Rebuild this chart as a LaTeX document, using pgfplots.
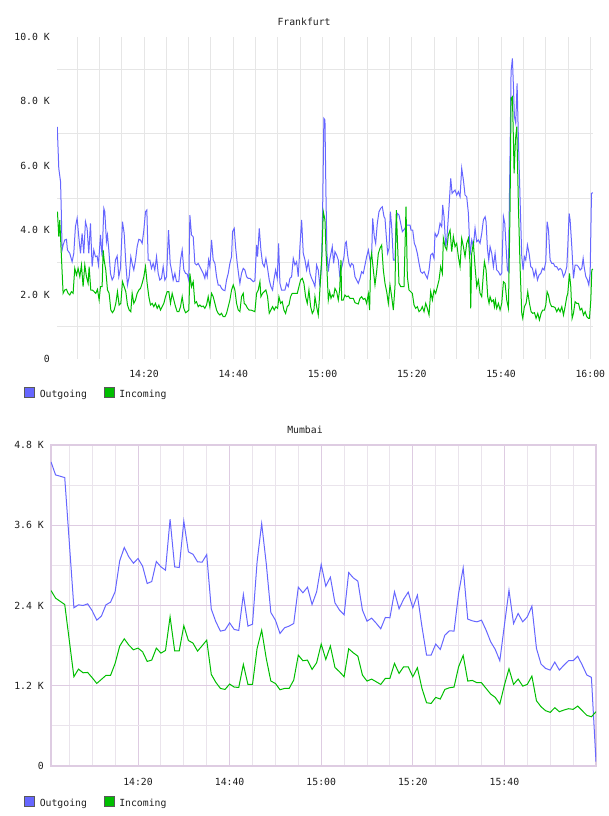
\documentclass[border=0pt]{standalone}
\usepackage{fontspec}
\setmainfont{DejaVu Sans Mono}
\usepackage{pgfplots}
\usepackage{pgfplotstable}
\pgfplotsset{compat=1.18}
\definecolor{outc}{RGB}{102,102,255}
\definecolor{inc}{RGB}{0,190,0}
\definecolor{gridg}{RGB}{230,230,230}
\definecolor{lavM}{RGB}{222,204,226}
\definecolor{lavm}{RGB}{234,228,236}
\definecolor{txt}{RGB}{30,30,30}

\pgfplotstableread{
m v
0.56 7210
0.90 5920
1.30 5500
1.49 4419
1.64 3384
1.87 3540
2.24 3695
2.62 3716
2.84 3384
3.36 3281
3.89 3022
4.26 3281
4.63 4109
5.01 4368
5.38 3798
5.76 3281
6.13 3902
6.50 3281
6.88 4264
7.25 4057
7.62 3281
8.00 4212
8.37 2867
8.74 3384
9.12 3177
9.49 3198
9.79 2919
10.24 3850
10.61 3177
10.99 4678
11.21 4575
11.58 3643
11.81 3850
12.11 3384
12.48 2660
12.86 2453
13.23 2556
13.60 3074
13.98 3198
14.35 2556
14.72 2815
15.17 4264
15.55 3902
15.92 2970
16.29 2298
16.67 2556
17.04 3177
17.41 2919
17.71 2763
18.09 3074
18.46 3488
18.83 3716
19.21 3695
19.58 3591
19.96 4005
20.33 4575
20.63 4626
20.93 3074
21.30 3074
21.67 2815
22.05 2970
22.42 2763
22.80 3177
23.17 2660
23.54 2453
23.92 2505
24.29 2867
24.66 2453
25.04 2556
25.49 4005
25.86 2970
26.16 2763
26.53 2453
26.91 2660
27.28 2401
27.80 2401
28.18 3074
28.55 3384
28.92 2763
29.30 2660
29.67 2639
30.04 2432
30.27 4471
30.64 3850
31.02 3798
31.39 2970
31.76 2919
32.14 2970
32.51 2867
32.89 2763
33.26 2660
33.63 2505
33.86 2712
34.16 2556
34.46 3074
34.75 2867
35.13 3695
35.50 3074
35.88 2970
36.25 2556
36.62 2298
37.00 2298
37.37 2194
37.74 2142
38.12 2122
38.49 2453
38.87 2660
39.24 2970
39.61 3177
39.84 3954
40.21 4057
40.51 3488
40.88 2970
41.26 2556
41.48 2349
41.85 2660
42.23 2815
42.60 2763
42.98 2556
43.35 2505
43.72 2505
44.10 2453
44.47 2401
44.84 2432
45.22 3540
45.44 3177
45.82 4057
46.19 3384
46.56 2970
46.94 2867
47.31 3126
47.68 2815
48.06 2453
48.43 2246
48.80 2142
49.10 2453
49.48 2763
49.85 2505
50.15 3591
50.45 2349
50.82 2142
51.20 2142
51.57 2142
51.94 2349
52.32 2246
52.69 2505
53.07 2556
53.44 3126
53.81 2919
54.19 3022
54.56 2556
54.93 3488
55.31 4316
55.68 3281
56.06 3074
56.43 2763
56.80 3022
57.18 2660
57.55 2505
57.92 2401
58.30 2246
58.67 2919
59.04 2763
59.42 2246
59.79 2970
60.02 4626
60.30 7470
60.54 7420
60.76 5144
60.99 3281
61.29 2712
61.59 3074
61.89 3281
62.18 3488
62.48 2970
62.78 3333
63.16 3229
63.53 3074
63.83 2608
64.13 2763
64.43 2919
64.80 3177
65.10 3591
65.32 3643
65.62 3229
65.92 2970
66.22 2867
66.52 2970
66.89 2919
67.27 2556
67.64 2453
68.01 2349
68.39 2505
68.76 2712
69.13 2660
69.51 2919
69.88 3177
70.26 3384
70.63 3074
71.00 3177
71.23 4368
71.60 3798
71.90 3591
72.27 4212
72.65 4575
73.02 4678
73.39 4730
73.77 4419
73.99 4368
74.29 3798
74.59 3281
74.89 3436
75.19 4575
75.49 4109
75.86 3074
76.23 3074
76.46 4212
76.76 4523
77.13 4471
77.51 4212
77.88 3954
78.18 4005
78.48 4057
78.85 4161
79.22 4161
79.60 4161
79.82 4005
80.20 4005
80.57 3591
80.87 3488
81.24 3281
81.62 2970
81.99 2712
82.36 2660
82.74 2712
83.11 2608
83.48 2505
83.86 2763
84.23 3229
84.61 3281
84.98 3126
85.20 3902
85.58 3798
85.95 3902
86.32 4212
86.70 4109
86.92 4782
87.22 4419
87.60 3488
87.89 3798
88.34 4730
88.72 5610
89.02 5144
89.31 5196
89.69 5247
90.06 5092
90.44 5196
90.81 5040
91.18 5920
91.56 5558
91.93 5092
92.30 5040
92.68 4523
93.05 3229
93.43 3695
93.80 3488
94.17 4057
94.55 3643
94.92 3695
95.29 3591
95.67 3902
96.04 4316
96.42 4419
96.64 4264
96.94 3436
97.24 3074
97.54 3488
97.91 3281
98.28 2867
98.66 3281
99.03 2763
99.41 2712
99.78 2608
100.15 2660
100.53 4419
100.83 4212
101.12 3488
101.42 2763
101.65 2712
102.02 6489
102.24 8922
102.54 9336
102.77 8456
102.99 7524
103.29 7317
103.59 8559
103.89 6800
104.26 4937
104.64 3177
104.94 2763
105.23 3177
105.53 3074
105.91 3540
106.28 3281
106.65 2867
107.03 2815
107.40 2556
107.78 2763
108.15 2453
108.52 2608
108.90 2660
109.27 2815
109.64 2763
110.02 3022
110.32 4264
110.62 4005
110.99 3074
111.36 2970
111.74 2970
112.11 2867
112.48 2867
112.86 2763
113.23 2815
113.61 2763
113.98 2556
114.35 2660
114.73 2867
114.95 3488
115.25 4523
115.47 4316
115.85 3488
116.22 2505
116.59 2919
116.97 2919
117.34 2867
117.71 2763
118.09 2815
118.39 3126
118.61 2867
118.99 2556
119.36 2453
119.66 2298
119.96 2660
120.26 5144
120.56 5165
}\FraOut

\pgfplotstableread{
m v
0.60 4575
0.90 3798
1.12 4316
1.49 3177
1.87 2039
2.24 2142
2.62 2163
2.99 2039
3.36 1987
3.74 2091
4.11 2039
4.48 2815
4.86 2608
5.23 2815
5.61 2556
5.98 2919
6.35 2246
6.73 2919
7.10 2556
7.47 2349
7.70 2867
8.07 2142
8.45 2142
8.82 2091
9.19 2039
9.57 2163
9.94 1832
10.24 2246
10.61 2246
10.84 3384
11.06 3074
11.43 2763
11.81 2142
12.18 2039
12.56 1521
12.93 1439
13.30 1521
13.68 1728
14.05 2091
14.42 1677
14.80 1728
15.17 2401
15.55 2246
15.92 2091
16.29 1677
16.67 1521
17.04 1470
17.34 2039
17.71 1728
18.09 1832
18.46 2039
18.83 2142
19.21 2194
19.58 2349
19.96 2556
20.33 2867
20.70 2349
21.08 1935
21.45 1677
21.82 1728
22.20 1625
22.57 1728
22.95 1573
23.32 1677
23.69 1521
24.07 1625
24.44 1728
24.81 1935
25.19 2091
25.56 2091
25.93 1728
26.31 2039
26.68 1832
27.06 1625
27.43 1470
27.80 1470
28.18 1625
28.55 1935
28.92 1573
29.30 1439
29.67 1470
30.04 1521
30.27 2660
30.64 2246
31.02 2401
31.39 1728
31.76 1780
32.14 1625
32.51 1677
32.89 1625
33.26 1646
33.63 1573
34.01 1677
34.38 1935
34.75 1625
35.13 2039
35.50 1935
35.88 1728
36.25 1521
36.62 1418
37.00 1366
37.37 1418
37.74 1314
38.12 1314
38.49 1418
38.87 1625
39.24 1832
39.61 2142
39.99 2298
40.36 2142
40.73 1728
41.11 1521
41.48 1470
41.85 1935
42.23 2039
42.45 1728
42.83 1677
43.20 1573
43.57 1521
43.95 1521
44.32 1501
44.84 1470
45.22 2039
45.59 2142
45.97 2401
46.19 1935
46.56 2039
46.94 2091
47.31 2142
47.68 1935
48.06 1418
48.43 1521
48.80 1625
49.18 1521
49.55 1625
49.93 1573
50.23 1935
50.60 1728
50.97 1780
51.35 1521
51.72 1418
52.09 1625
52.47 1677
52.84 1935
53.21 2039
53.59 2039
53.96 2039
54.34 2039
54.71 2246
55.08 2453
55.46 2505
55.83 2349
56.20 1935
56.58 1728
56.95 2142
57.33 1625
57.70 1418
58.07 1521
58.30 1935
58.67 1625
59.04 1366
59.27 1832
59.57 2556
59.87 3281
60.17 4575
60.54 4316
60.76 3384
60.99 2763
61.29 1832
61.59 2091
61.89 1884
62.18 1987
62.48 1935
62.78 2194
63.16 2091
63.53 1832
63.83 2142
64.13 3074
64.28 1832
64.65 1832
65.02 1987
65.40 1935
65.77 1956
66.15 1884
66.52 1884
66.89 1884
67.27 1749
67.64 1728
68.01 1708
68.39 1884
68.76 1935
69.13 1853
69.51 1884
69.88 1728
70.26 2018
70.55 1521
70.78 3074
71.00 3281
71.38 2763
71.75 2298
72.12 2712
72.50 3281
72.87 3436
73.25 3540
73.62 2763
73.99 2349
74.37 2091
74.74 1728
75.11 2298
75.49 1935
75.86 1521
76.23 2246
76.53 4626
76.83 3488
77.13 2349
77.51 2246
77.88 2246
78.25 2246
78.70 4730
79.00 2556
79.37 2142
79.75 2091
80.12 2039
80.50 1677
80.87 1573
81.24 1625
81.62 1470
81.99 1521
82.36 1625
82.74 1470
83.11 1728
83.48 1573
83.86 1366
84.23 2091
84.61 1832
84.98 2142
85.35 2039
85.73 2246
86.10 2453
86.47 2867
86.85 2660
87.07 3747
87.45 3488
87.82 3384
88.19 3850
88.57 4005
88.94 3333
89.31 3798
89.69 3488
90.06 3591
90.44 3177
90.81 2867
91.18 3747
91.56 3488
91.93 3177
92.30 3591
92.68 3747
93.05 2970
93.20 1573
93.43 3281
93.80 3591
94.17 2867
94.55 2246
94.92 2453
95.29 2039
95.67 1935
96.04 2660
96.27 3022
96.64 2763
97.01 1935
97.31 1728
97.54 1935
97.91 1780
98.28 1832
98.51 1625
98.73 1832
99.03 1573
99.41 1728
99.78 1521
100.15 1728
100.53 2401
100.90 2349
101.27 1832
101.65 1573
102.02 4730
102.24 8094
102.54 8146
102.77 6800
102.92 5765
103.22 6800
103.52 7214
103.89 4730
104.26 2867
104.64 1418
104.86 1263
105.23 1625
105.61 1728
105.98 2091
106.36 1728
106.73 1470
107.10 1418
107.48 1439
107.85 1263
108.22 1418
108.60 1211
108.97 1418
109.35 1521
109.72 1521
110.02 1677
110.32 2091
110.62 1987
110.99 1728
111.36 1625
111.74 1625
112.11 1594
112.48 1470
112.86 1573
113.23 1470
113.61 1625
113.98 1366
114.35 1625
114.73 1935
114.95 2039
115.32 2660
115.62 2246
115.92 1263
116.22 1418
116.59 1780
116.97 1728
117.34 1728
117.71 1521
118.09 1573
118.46 1366
118.84 1470
119.21 1314
119.58 1263
119.81 1263
120.11 1832
120.33 2763
120.56 2795
}\FraIn

\pgfplotstableread{
m v
1 4547
2 4353
4 4313
6 2366
7 2410
8 2400
9 2425
10 2321
11 2181
12 2241
13 2410
14 2450
15 2605
16 3068
17 3267
18 3127
19 3033
20 3103
21 2988
22 2729
23 2759
24 3058
25 2978
26 2928
27 3690
28 2978
29 2968
30 3660
31 3202
32 3167
33 3053
34 3048
35 3162
36 2346
37 2156
38 2017
39 2032
40 2141
41 2042
42 2027
43 2565
44 2092
45 2121
46 3053
47 3625
48 3028
49 2296
50 2181
51 1982
52 2067
53 2092
54 2131
55 2674
56 2590
57 2674
58 2415
59 2605
60 3013
61 2689
62 2824
63 2440
64 2331
65 2261
66 2893
67 2814
68 2764
69 2331
70 2166
71 2211
72 2136
73 2052
74 2221
75 2216
76 2605
77 2351
78 2495
79 2600
80 2366
81 2555
82 2082
83 1658
84 1658
85 1823
86 1743
87 1957
88 2022
89 2017
90 2580
91 2963
92 2196
93 2171
94 2156
95 2181
96 2032
97 1858
98 1743
99 1574
100 2107
101 2629
102 2131
103 2281
104 2156
105 2231
106 2390
107 1758
108 1524
109 1459
110 1434
111 1554
112 1434
113 1509
114 1574
115 1574
116 1643
117 1509
118 1360
119 1325
120 65
}\MumOut

\pgfplotstableread{
m v
1 2624
2 2510
4 2415
6 1335
7 1449
8 1394
9 1399
10 1320
11 1235
12 1295
13 1355
14 1355
15 1534
16 1793
17 1902
18 1808
19 1738
20 1763
21 1708
22 1564
23 1584
24 1763
25 1688
26 1728
27 2231
28 1723
29 1723
30 2097
31 1877
32 1838
33 1718
34 1798
35 1882
36 1370
37 1250
38 1160
39 1145
40 1225
41 1180
42 1175
43 1519
44 1220
45 1220
46 1758
47 2032
48 1609
49 1270
50 1235
51 1140
52 1160
53 1160
54 1285
55 1658
56 1574
57 1584
58 1444
59 1544
60 1823
61 1594
62 1793
63 1474
64 1409
65 1335
66 1753
67 1693
68 1643
69 1360
70 1270
71 1300
72 1260
73 1220
74 1310
75 1310
76 1534
77 1384
78 1484
79 1484
80 1335
81 1469
82 1160
83 946
84 936
85 1026
86 1001
87 1145
88 1170
89 1180
90 1484
91 1653
92 1270
93 1280
94 1245
95 1245
96 1160
97 1076
98 1026
99 926
100 1210
101 1454
102 1220
103 1300
104 1195
105 1220
106 1345
107 976
108 886
109 827
110 802
111 872
112 812
113 837
114 857
115 847
116 896
117 827
118 757
119 737
120 812
}\MumIn

\pgfplotsset{
  rrd/.style={
    scale only axis,
    font=\fontsize{9.8}{11}\selectfont,
    every tick label/.append style={text=txt},
    major tick length=0pt, minor tick length=0pt,
    tick style={draw=none},
    scaled x ticks=false, scaled y ticks=false,
    legend columns=2,
    legend cell align=left,
    legend image code/.code={\draw[#1, fill, draw=gray!70!black, line width=0.8pt] (0pt,-2.8pt) rectangle (10pt,7.2pt);},
    legend style={draw=none, fill=none, inner sep=0pt, outer sep=0pt,
      at={(0,0)}, anchor=north west, text=txt,
      font=\fontsize{9.8}{11}\selectfont,
      nodes={inner sep=0pt},
      /tikz/every odd column/.style={column sep=5pt},
      /tikz/every even column/.style={column sep=16.5pt}},
    yticklabel style={anchor=east, inner sep=0pt, xshift=-7pt},
    every axis title/.style={anchor=base, inner sep=0pt, text=txt},
  }
}

\begin{document}
\begin{tikzpicture}
\useasboundingbox (0pt,0pt) rectangle (608pt,-816pt);

\begin{axis}[rrd,
  at={(57pt,-37pt)}, anchor=north west,
  width=536pt, height=322pt,
  xmin=0.5, xmax=120.6, ymin=0, ymax=10000,
  axis line style={draw=none},
  xtick={20,40,...,120},
  xticklabels={14:20,14:40,15:00,15:20,15:40,16:00},
  minor xtick={5,10,...,115},
  ytick={0,2000,...,10000},
  yticklabels={0,2.0 K,4.0 K,6.0 K,8.0 K,10.0 K},
  minor ytick={1000,3000,...,9000},
  xmajorgrids, xminorgrids, yminorgrids, ymajorgrids=false,
  major grid style={gridg, line width=1pt},
  minor grid style={gridg, line width=1pt},
  xticklabel style={anchor=base, inner sep=0pt, yshift=-18pt},
  title={Frankfurt},
  title style={at={(0.461,1)}, yshift=11.5pt},
  legend style={xshift=-33pt, yshift=-28.3pt},
]
\addplot[outc, line width=1pt] table[x=m, y=v] {\FraOut};
\addlegendentry{Outgoing}
\addplot[inc, line width=1pt] table[x=m, y=v] {\FraIn};
\addlegendentry{Incoming}
\end{axis}

\begin{axis}[rrd,
  at={(51pt,-445pt)}, anchor=north west,
  width=545pt, height=321pt,
  xmin=1, xmax=120, ymin=0, ymax=4800,
  axis line style={draw=lavM, line width=1.2pt},
  xtick={20,40,...,100},
  xticklabels={14:20,14:40,15:00,15:20,15:40},
  minor xtick={5,10,...,115},
  ytick={0,1200,...,4800},
  yticklabels={0,1.2 K,2.4 K,3.6 K,4.8 K},
  minor ytick={600,1800,3000,4200},
  grid=both,
  major grid style={lavM, line width=1pt},
  minor grid style={lavm, line width=1pt},
  xticklabel style={anchor=base, inner sep=0pt, yshift=-19pt},
  title={Mumbai},
  title style={at={(0.466,1)}, yshift=12pt},
  legend style={xshift=-27pt, yshift=-29.7pt},
]
\addplot[outc, line width=1pt] table[x=m, y=v] {\MumOut};
\addlegendentry{Outgoing}
\addplot[inc, line width=1pt] table[x=m, y=v] {\MumIn};
\addlegendentry{Incoming}
\end{axis}
\end{tikzpicture}
\end{document}
